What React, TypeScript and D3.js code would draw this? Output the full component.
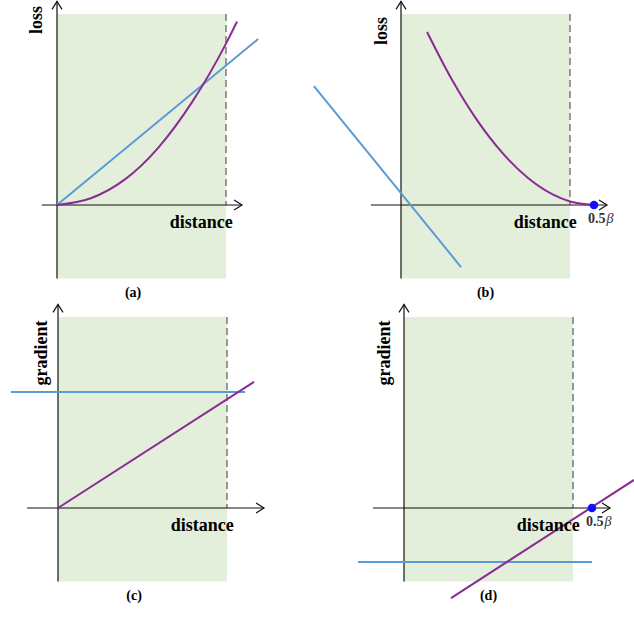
import React from 'react';
import * as d3 from 'd3';

// distances are in units of the dashed margin line (dashed line = 1)
const squaredLoss = [
  [0, 0], [0.2, 0.04], [0.4, 0.15], [0.6, 0.34], [0.8, 0.61], [1.0, 0.955], [1.065, 1.085],
];
const absLoss = [[0, 0], [1.19, 0.982]];
const marginLoss = [
  [0.154, 1.024], [0.3, 0.744], [0.45, 0.502], [0.6, 0.308], [0.75, 0.161], [0.9, 0.061], [1.0, 0.021], [1.142, 0],
];
const negLoss = [[-0.515, 0.704], [0.355, -0.367]];
const squaredGrad = [[0, 0], [1.16, 0.746]];
const absGrad = [[-0.278, 0.686], [1.107, 0.686]];
const marginGrad = [[0.278, -0.533], [1.361, 0.166]];
const negGrad = [[-0.272, -0.32], [1.112, -0.32]];

const panelLabels = ['(a)', '(b)', '(c)', '(d)'];
const yLabels = ['loss', 'loss', 'gradient', 'gradient'];
const betaPoints = [null, 1.142, null, 1.112];

const purple = '#8a2b93';
const blue = '#5b9bd5';
const green = '#e3efdb';
const serif = '"Liberation Serif", "DejaVu Serif", serif';

const panels = [
  { ox: 57, oy: 205, xMin: -0.09, xMax: 1.095, purple: squaredLoss, blue: absLoss, loss: true, yLab: [42, 20] },
  { ox: 401, oy: 205, xMin: -0.178, xMax: 1.219, purple: marginLoss, blue: negLoss, loss: true, yLab: [387, 31] },
  { ox: 58, oy: 508, xMin: -0.183, xMax: 1.219, purple: squaredGrad, blue: absGrad, loss: false, yLab: [47, 353] },
  { ox: 404, oy: 508, xMin: -0.183, xMax: 1.219, purple: marginGrad, blue: negGrad, loss: false, yLab: [390, 353] },
];

function Panel({ p, i }) {
  const unit = 169;
  const x = d3.scaleLinear().domain([0, 1]).range([p.ox, p.ox + unit]);
  const y = d3.scaleLinear().domain([0, 1]).range([p.oy, p.oy - unit]);
  const line = d3.line().x(d => x(d[0])).y(d => y(d[1]));
  const curve = d3.line().x(d => x(d[0])).y(d => y(d[1])).curve(d3.curveMonotoneX);
  const top = 1.13, bottom = -0.435, yTop = 1.205;
  const ax = x(p.xMax), ay = y(yTop);
  const beta = betaPoints[i];
  const capX = i % 2 === 0 ? x(0.45) : x(0.5);
  return (
    <g>
      <rect x={x(0)} y={y(top)} width={x(1) - x(0)} height={y(bottom) - y(top)} fill={green} />
      <line x1={x(1)} x2={x(1)} y1={y(top)} y2={y(0)} stroke="#808080" strokeWidth={1.6} strokeDasharray="7,4" />
      {/* axes */}
      <line x1={x(p.xMin)} x2={ax} y1={y(0)} y2={y(0)} stroke="#111" strokeWidth={1.2} />
      <path d={`M${ax - 8},${y(0) - 5}L${ax},${y(0)}L${ax - 8},${y(0) + 5}`} fill="none" stroke="#111" strokeWidth={1.2} />
      <line x1={x(0)} x2={x(0)} y1={y(bottom)} y2={ay} stroke="#111" strokeWidth={1.2} />
      <path d={`M${x(0) - 5},${ay + 8}L${x(0)},${ay}L${x(0) + 5},${ay + 8}`} fill="none" stroke="#111" strokeWidth={1.2} />
      {/* series */}
      <path d={line(p.blue)} fill="none" stroke={blue} strokeWidth={2} />
      <path d={p.loss ? curve(p.purple) : line(p.purple)} fill="none" stroke={purple} strokeWidth={2} />
      {beta != null && (
        <g>
          <circle cx={x(beta)} cy={y(0)} r={4.3} fill="#1010ff" />
          <text x={x(beta) - 6} y={y(0) + 18} fontFamily={serif} fontSize={14} fill="#333">
            <tspan fontWeight="bold">0.5</tspan>
            <tspan fontStyle="italic" dx={1}>β</tspan>
          </text>
        </g>
      )}
      <text x={x(1.04)} y={y(0) + 23} textAnchor="end" fontFamily={serif} fontWeight="bold" fontSize={18}>distance</text>
      <text transform={`translate(${p.yLab[0]},${p.yLab[1]}) rotate(-90)`} textAnchor="middle" fontFamily={serif} fontWeight="bold" fontSize={18}>{yLabels[i]}</text>
      <text x={capX} y={p.oy + 92} textAnchor="middle" fontFamily={serif} fontWeight="bold" fontSize={14}>{panelLabels[i]}</text>
    </g>
  );
}

export default function App() {
  return (
    <svg width={634} height={627} style={{ position: 'absolute', left: 0, top: 0, background: '#fff' }}>
      {panels.map((p, i) => <Panel key={i} p={p} i={i} />)}
    </svg>
  );
}
